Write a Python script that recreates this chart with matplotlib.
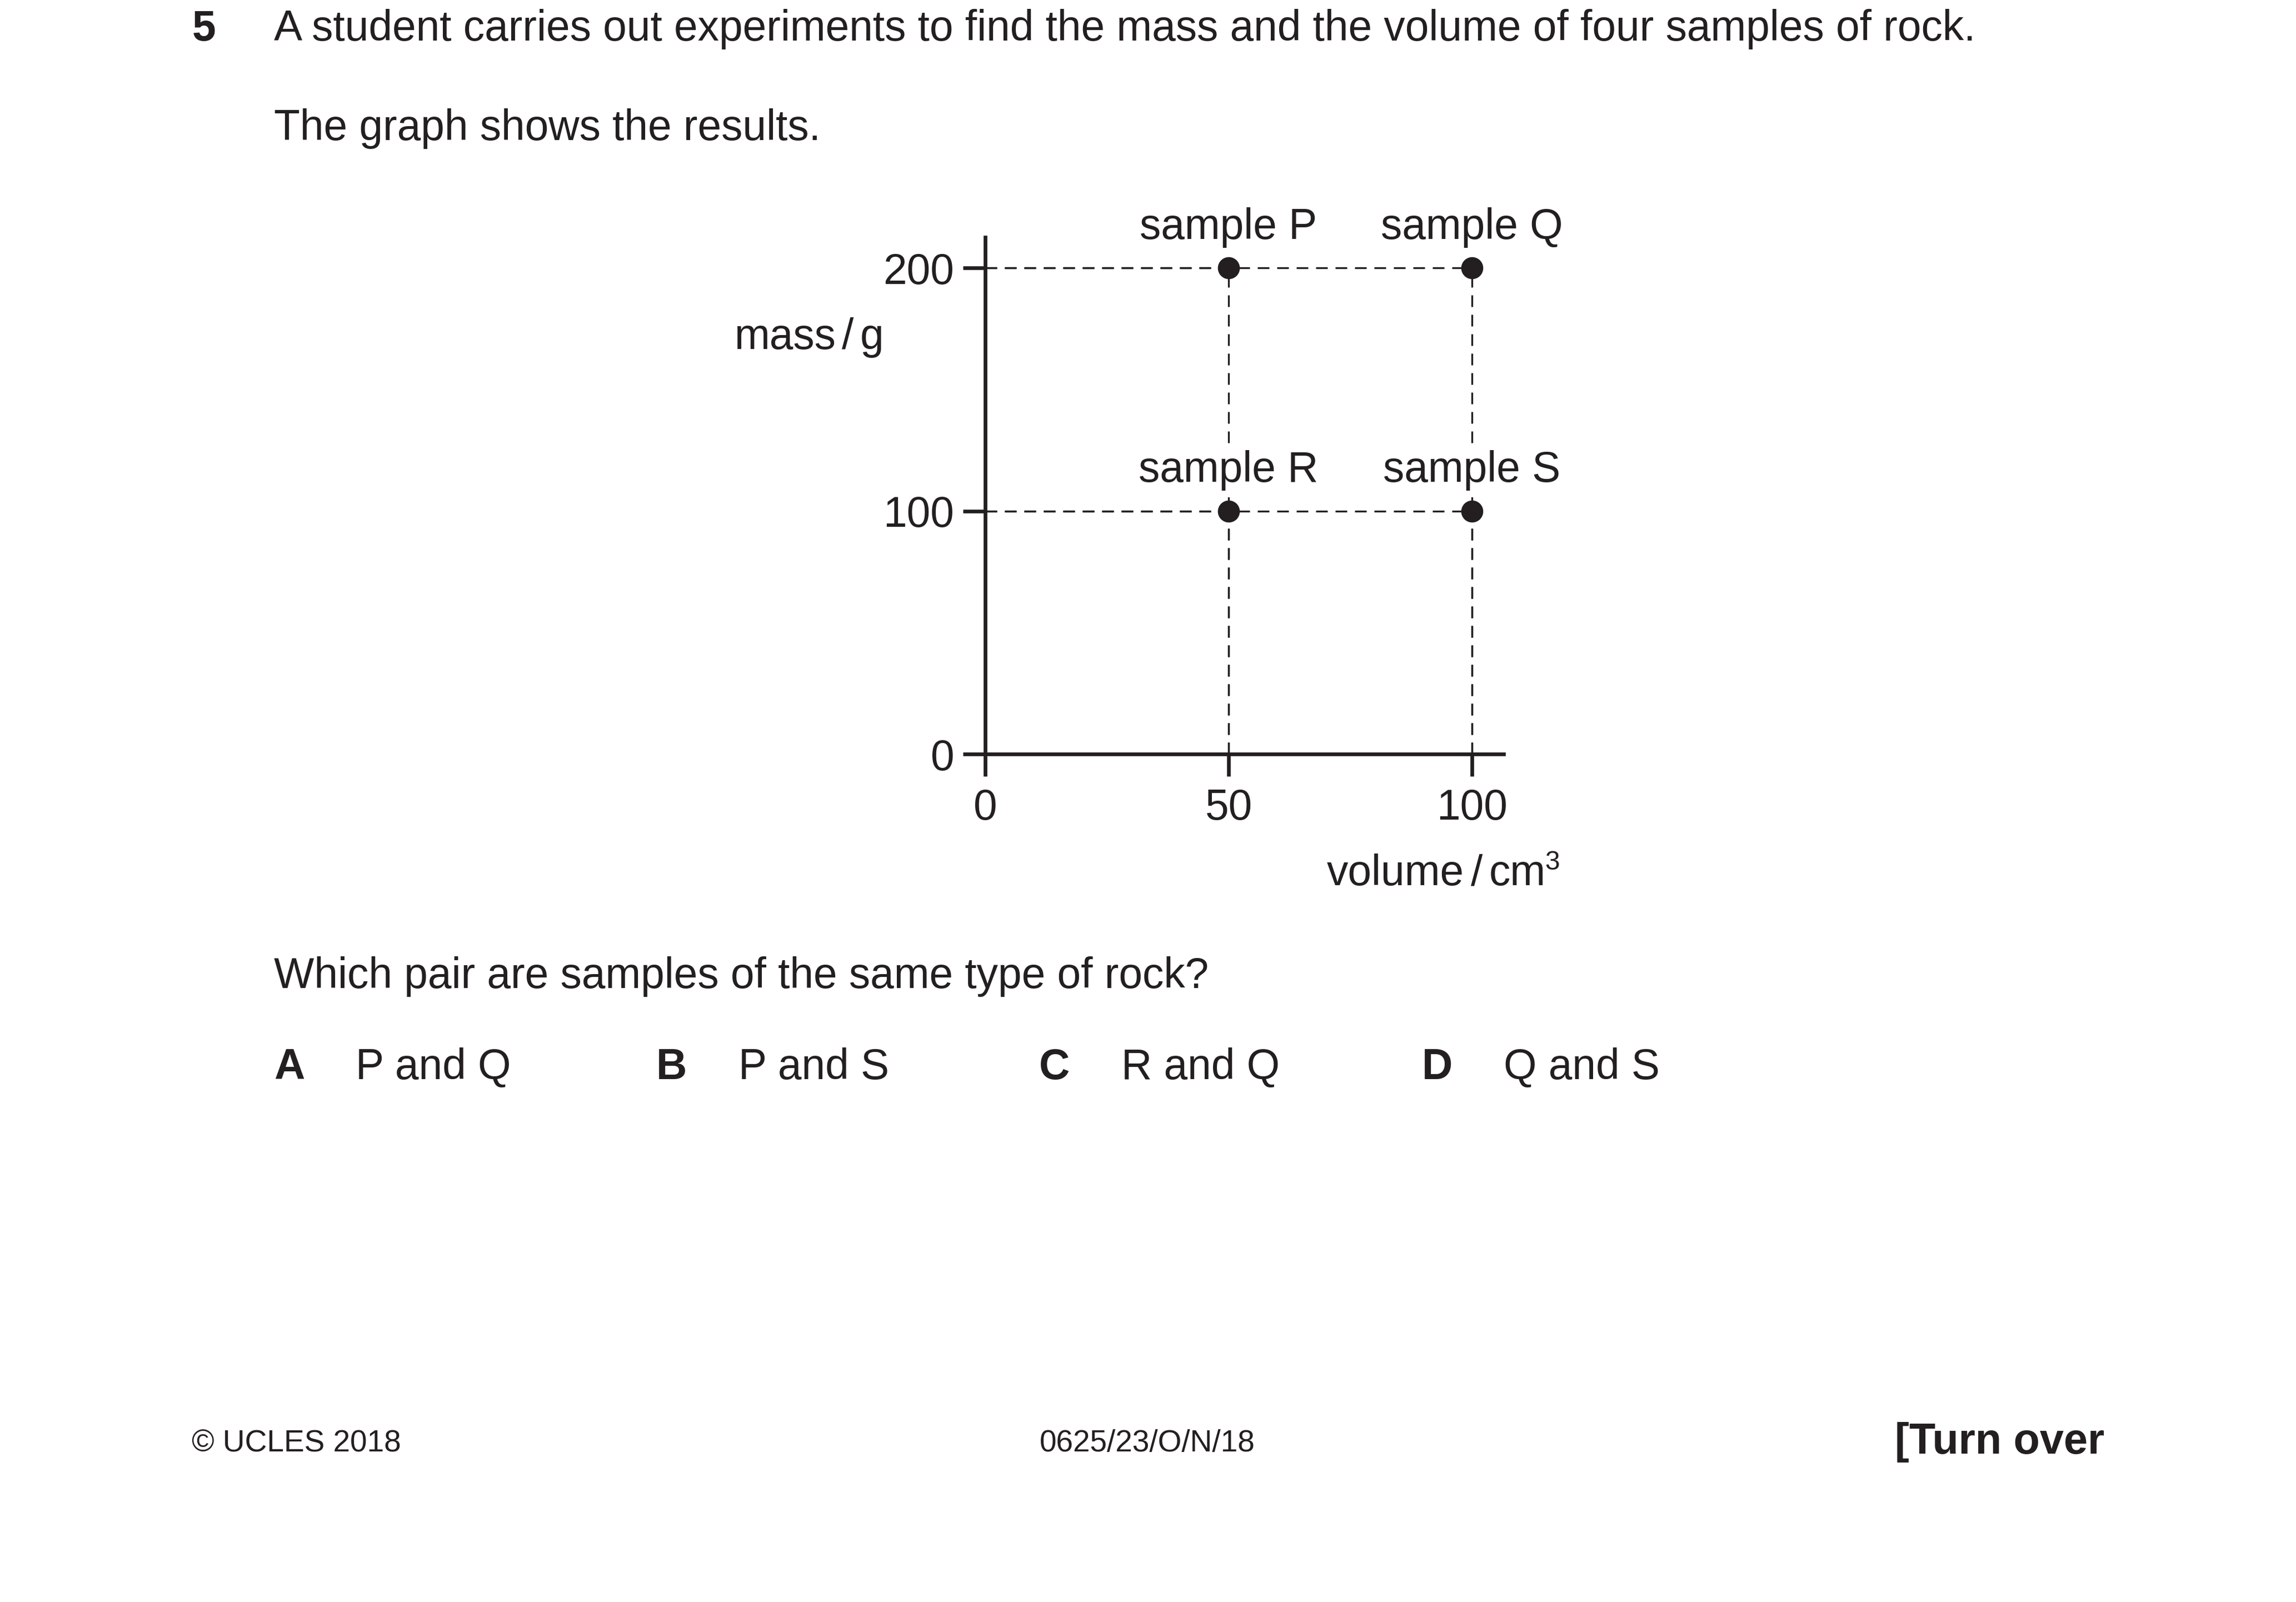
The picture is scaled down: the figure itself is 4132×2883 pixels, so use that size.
import matplotlib
matplotlib.use("Agg")
import matplotlib.pyplot as plt

plt.rcParams["font.family"] = ["Liberation Sans", "DejaVu Sans"]

INK = "#231f20"

# data
sample_names = ["P", "Q", "R", "S"]
volume_cm3 = [50, 100, 50, 100]
mass_g = [200, 200, 100, 100]
x_ticks = [0, 50, 100]
y_ticks = [0, 100, 200]

options = [("A", "P and Q"), ("B", "P and S"), ("C", "R and Q"), ("D", "Q and S")]

W, H = 4132, 2883
fig = plt.figure(figsize=(W / 300, H / 300), dpi=300)


# positions measured on a 1568 x 1094 copy of the page
def fx(px):
    return px / 1568


def fy(py):
    return 1 - py / 1094


fs = 18.4
dash = (0, (6.3, 4.2))

fig.text(fx(131), fy(20), "5", fontsize=fs, fontweight="bold", color=INK, va="center")
fig.text(fx(187), fy(20), "A student carries out experiments to find the mass and the volume of four samples of rock.",
         fontsize=fs, color=INK, va="center")
fig.text(fx(187), fy(88), "The graph shows the results.", fontsize=fs, color=INK, va="center")

ax = fig.add_axes([fx(673), fy(515), 354 / 1568, 353 / 1094])
ax.set_xlim(0, 106.6)
ax.set_ylim(0, 212.6)
for side in ["top", "right"]:
    ax.spines[side].set_visible(False)
for side in ["left", "bottom"]:
    ax.spines[side].set_linewidth(1.6)
    ax.spines[side].set_color(INK)
ax.set_xticks(x_ticks)
ax.set_yticks(y_ticks)
ax.tick_params(direction="out", length=9.5, width=1.6, colors=INK, labelsize=fs)
ax.tick_params(axis="x", pad=5)
ax.tick_params(axis="y", pad=4)
ax.patch.set_alpha(0)

for v, m in zip(volume_cm3, mass_g):
    ax.plot([0, v], [m, m], color=INK, lw=0.8, linestyle=dash, zorder=1)
    ax.plot([v, v], [0, m], color=INK, lw=0.8, linestyle=dash, zorder=1)

ax.plot(volume_cm3, mass_g, "o", color=INK, markersize=8.5, zorder=4, clip_on=False)

for name, v, m in zip(sample_names, volume_cm3, mass_g):
    ax.annotate(f"sample {name}", (v, m), xytext=(0, 17.5), textcoords="offset points",
                ha="center", va="center", fontsize=fs, color=INK, zorder=3,
                annotation_clip=False,
                bbox=dict(facecolor="white", edgecolor="none", pad=3))

# axis titles, set piece by piece to get the tight spacing round the slash
for txt, x in [("mass", 501.6), ("/", 575), ("g", 587.5)]:
    fig.text(fx(x), fy(238.3), txt, fontsize=fs, color=INK, ha="left", va="baseline")
for txt, x in [("volume", 906), ("/", 1004.5), ("cm", 1017)]:
    fig.text(fx(x), fy(604.6), txt, fontsize=fs, color=INK, ha="left", va="baseline")
fig.text(fx(1055), fy(594), "3", fontsize=11.5, color=INK, ha="left", va="baseline")

fig.text(fx(187), fy(667), "Which pair are samples of the same type of rock?", fontsize=fs, color=INK, va="center")
for i, (letter, answer) in enumerate(options):
    x0 = 187 + i * 261.3
    fig.text(fx(x0), fy(729), letter, fontsize=fs, fontweight="bold", color=INK, va="center")
    fig.text(fx(x0 + 56), fy(729), answer, fontsize=fs, color=INK, va="center")

fig.text(fx(131), fy(986), "\u00a9 UCLES 2018", fontsize=13.2, color=INK, va="center")
fig.text(fx(710), fy(986), "0625/23/O/N/18", fontsize=13.2, color=INK, va="center")
fig.text(fx(1437), fy(985), "[Turn over", fontsize=18.6, fontweight="bold", color=INK, ha="right", va="center")

fig.savefig("out.png", dpi=300, facecolor="white")
